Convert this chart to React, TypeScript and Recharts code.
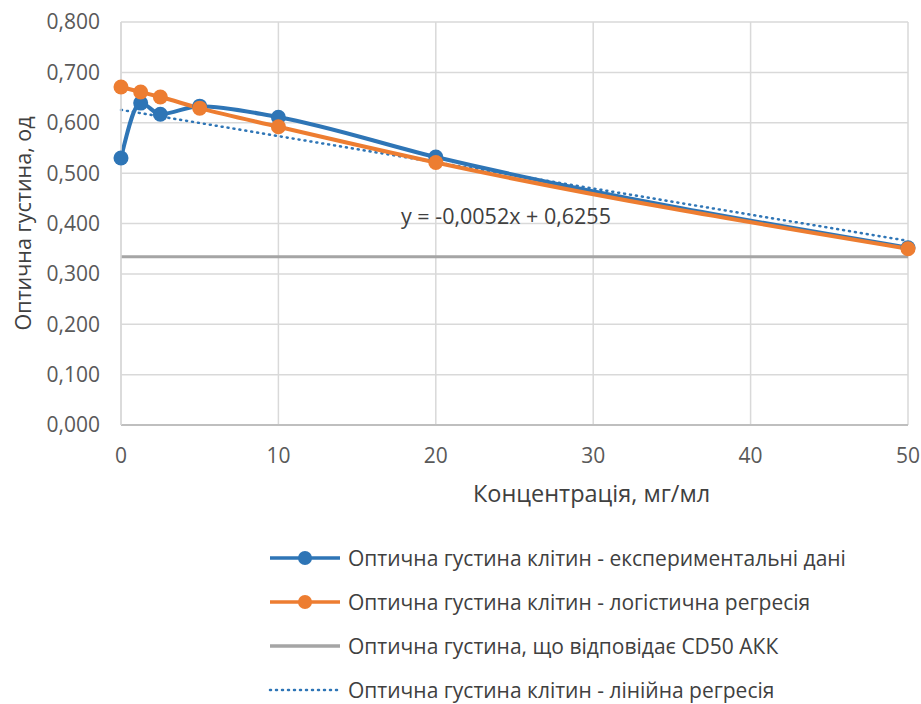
import React from "react";
import {
  CartesianGrid,
  Line,
  LineChart,
  ReferenceLine,
  XAxis,
  YAxis,
} from "recharts";

const concentrations = [0, 1.25, 2.5, 5, 10, 20, 50];
const experimental = [0.53, 0.639, 0.617, 0.633, 0.611, 0.532, 0.352];
const logistic = [0.671, 0.661, 0.651, 0.629, 0.592, 0.521, 0.35];
const cd50Level = 0.334;
const trendX = [0, 50];
const trendY = [0.6255, 0.3655];

const xTicks = [0, 10, 20, 30, 40, 50];
const yTicks = [0, 0.1, 0.2, 0.3, 0.4, 0.5, 0.6, 0.7, 0.8];

const seriesNames = [
  "Оптична густина клітин - експериментальні дані",
  "Оптична густина клітин - логістична регресія",
  "Оптична густина, що відповідає CD50 АКК",
  "Оптична густина клітин - лінійна регресія",
];
const xTitle = "Концентрація, мг/мл";
const yTitle = "Оптична густина, од";
const equationText = "y = -0,0052x + 0,6255";

const BLUE = "#2e75b6";
const ORANGE = "#ed7d31";
const GRAY = "#a5a5a5";
const FONT = "'Open Sans', sans-serif";

const points = concentrations.map((x, i) => ({
  x,
  experimental: experimental[i],
  logistic: logistic[i],
}));
const trend = trendX.map((x, i) => ({ x, trend: trendY[i] }));

const fmt = (v: number) => v.toFixed(3).replace(".", ",");

function LegendRow({ kind, color, label }: { kind: string; color: string; label: string }) {
  return (
    <div style={{ display: "flex", alignItems: "center", height: 44 }}>
      <svg width={80} height={20}>
        {kind === "dot" ? (
          <line x1={2} y1={10} x2={72} y2={10} stroke={color} strokeWidth={2.5} strokeDasharray="1 5" strokeLinecap="round" />
        ) : (
          <line x1={2} y1={10} x2={72} y2={10} stroke={color} strokeWidth={3.5} />
        )}
        {kind === "marker" && <circle cx={37} cy={10} r={7} fill={color} />}
      </svg>
      <span style={{ fontSize: 21, color: "#404040", whiteSpace: "nowrap", lineHeight: "24px" }}>{label}</span>
    </div>
  );
}

export default function App() {
  return (
    <div style={{ position: "absolute", left: 0, top: 0, width: 921, height: 704, background: "#fff", fontFamily: FONT }}>
      <LineChart width={921} height={540} margin={{ top: 22, right: 13, left: 0, bottom: 35 }}>
        <CartesianGrid stroke="#d9d9d9" strokeWidth={1.5} />
        <XAxis
          type="number"
          dataKey="x"
          domain={[0, 50]}
          ticks={xTicks}
          tickLine={false}
          axisLine={{ stroke: "#bfbfbf", strokeWidth: 2 }}
          tickMargin={17}
          height={80}
          tick={{ fill: "#595959", fontSize: 21, fontFamily: FONT }}
        />
        <YAxis
          type="number"
          domain={[0, 0.8]}
          ticks={yTicks}
          tickFormatter={fmt}
          width={121}
          tickLine={false}
          axisLine={{ stroke: "#d9d9d9", strokeWidth: 1.5 }}
          tickMargin={15}
          tick={{ fill: "#595959", fontSize: 21, fontFamily: FONT }}
          label={{ value: yTitle, angle: -90, position: "insideLeft", offset: 23, fill: "#404040", fontSize: 21.5, fontFamily: FONT, style: { textAnchor: "middle" } }}
        />
        <ReferenceLine y={cd50Level} stroke={GRAY} strokeWidth={3} />
        <Line
          data={trend}
          dataKey="trend"
          type="linear"
          stroke={BLUE}
          strokeWidth={2.5}
          strokeDasharray="1 5"
          strokeLinecap="round"
          dot={false}
          isAnimationActive={false}
        />
        <Line
          data={points}
          dataKey="experimental"
          type="monotone"
          stroke={BLUE}
          strokeWidth={4}
          dot={{ r: 7.5, fill: BLUE, stroke: BLUE, strokeWidth: 0 }}
          isAnimationActive={false}
        />
        <Line
          data={points}
          dataKey="logistic"
          type="monotone"
          stroke={ORANGE}
          strokeWidth={4}
          dot={{ r: 7.5, fill: ORANGE, stroke: ORANGE, strokeWidth: 0 }}
          isAnimationActive={false}
        />
      </LineChart>
      <div style={{ position: "absolute", left: 473, top: 477, fontSize: 23.5, color: "#404040", whiteSpace: "nowrap", lineHeight: "32px" }}>{xTitle}</div>
      <div style={{ position: "absolute", left: 401, top: 201, fontSize: 21.5, color: "#404040", whiteSpace: "nowrap", lineHeight: "30px" }}>{equationText}</div>
      <div style={{ position: "absolute", left: 268, top: 536 }}>
        <LegendRow kind="marker" color={BLUE} label={seriesNames[0]} />
        <LegendRow kind="marker" color={ORANGE} label={seriesNames[1]} />
        <LegendRow kind="line" color={GRAY} label={seriesNames[2]} />
        <LegendRow kind="dot" color={BLUE} label={seriesNames[3]} />
      </div>
    </div>
  );
}
